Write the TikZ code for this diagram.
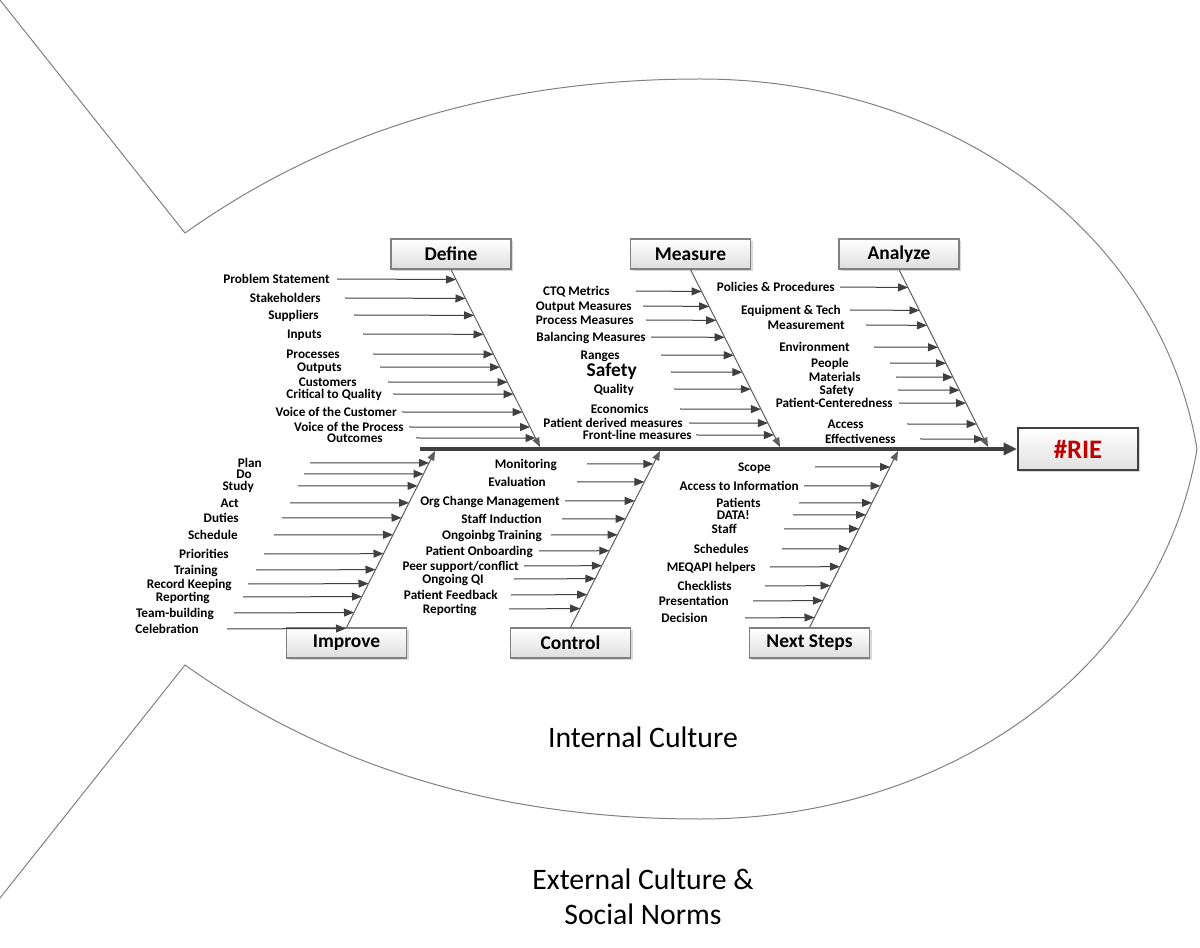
\documentclass[tikz,border=0pt]{standalone}
\usepackage{fontspec}
\setmainfont{Carlito}
\usetikzlibrary{arrows.meta, calc, shadows}
\definecolor{bonegray}{RGB}{64,64,64}
\definecolor{finegray}{RGB}{128,128,128}
\definecolor{riered}{RGB}{192,0,0}

\tikzset{
  stage/.style={draw=finegray, line width=0.8pt, top color=white, bottom color=black!13,
    minimum width=90pt, minimum height=22.5pt, inner sep=0pt,
    font=\fontsize{14.6}{16}\selectfont\bfseries,
    drop shadow={shadow xshift=1.8pt, shadow yshift=-1.8pt, opacity=0.3}},
  head/.style={draw=bonegray, line width=1.6pt, top color=white, bottom color=black!12,
    minimum width=90pt, minimum height=31.5pt, inner sep=0pt, text=riered,
    font=\fontsize{20}{22}\selectfont\bfseries,
    drop shadow={shadow xshift=1.8pt, shadow yshift=-1.8pt, opacity=0.3}},
  cause/.style={font=\fontsize{9.9}{11}\selectfont\bfseries, inner sep=0pt,
    text height=1.38ex, text depth=0pt},
  sub/.style={draw=bonegray, line width=0.75pt, -{Triangle[length=7.5pt, width=6pt]}},
  bone/.style={draw=bonegray!85, line width=0.75pt, -{Triangle[length=7pt, width=5.5pt]}},
  spine/.style={draw=bonegray, line width=2.3pt, -{Triangle[length=10pt, width=9pt]}},
  culture/.style={font=\fontsize{22.3}{26.25}\selectfont, text=black, align=center},
}

\begin{document}
\begin{tikzpicture}[x=0.75pt, y=-0.75pt]
\useasboundingbox (0,0) rectangle (1200,948);

% fish outline
\draw[finegray, line width=0.75pt] (0,0) -- (185,233)
  .. controls (330,130) and (500,79) .. (700,79)
  .. controls (950,79) and (1160,230) .. (1197,449)
  .. controls (1160,668) and (950,819) .. (700,819)
  .. controls (500,819) and (330,768) .. (185,665) -- (0,898);

% head and spine
\node[head] (rie) at (1078,449) {\#RIE};
\coordinate (tail) at (420,449);
\draw[spine] (tail) -- (rie.west);

% stage boxes
\node[stage] (define) at (451,254) {Define};
\node[stage] (measure) at (690.5,254) {Measure};
\node[stage] (analyze) at (899,254) {Analyze};
\node[stage] (improve) at (346.5,643) {Improve};
\node[stage] (control) at (570.5,643) {Control};
\node[stage] (next) at (809.5,643) {Next Steps};

% joints on the spine
\coordinate (dj) at (540,447);
\coordinate (mj) at (780,447);
\coordinate (aj) at (988,447);
\coordinate (ij) at (435,451);
\coordinate (cj) at (660,451);
\coordinate (nj) at (898,451);

\draw[bone] (define.south) -- (dj);
\draw[bone] (measure.south) -- (mj);
\draw[bone] (analyze.south) -- (aj);
\draw[bone] (improve.north) -- (ij);
\draw[bone] (control.north) -- (cj);
\draw[bone] (next.north) -- (nj);

% Define causes
\foreach \txt/\y/\xl/\xs [count=\i] in {Problem Statement/279/330/337, Stakeholders/298/321/345,
    Suppliers/315/319/354, Inputs/334/322/363, Processes/354/340/373, Outputs/367/342/380,
    Customers/382/357/388, Critical to Quality/394/382/393, Voice of the Customer/412/397/402,
    Voice of the Process/427/404/409, Outcomes/438/383/416}{
  \node[cause, anchor=east] (def\i) at (\xl,\y) {\txt};
  \pgfmathsetmacro\fr{(\y-269)/(447-269)}
  \draw[sub] (\xs,\y) -- ($(define.south)!\fr!(dj)$);
}

% Measure causes
\foreach \txt/\y/\xl/\xs [count=\i] in {CTQ Metrics/291/610/636, Output Measures/306/632/643,
    Process Measures/320/634/646, Balancing Measures/337/646/651, Ranges/355/620/661,
    {\fontsize{14.6}{16}\selectfont Safety}/372/637/671, Quality/389/634/674,
    Economics/409/649/680, Patient derived measures/423/683/689,
    Front-line measures/435/692/696}{
  \node[cause, anchor=east] (mea\i) at (\xl,\y) {\txt};
  \pgfmathsetmacro\fr{(\y-269)/(447-269)}
  \draw[sub] (\xs,\y) -- ($(measure.south)!\fr!(mj)$);
}

% Analyze causes
\foreach \txt/\y/\xl/\xs [count=\i] in {Policies \& Procedures/287/835/840,
    Equipment \& Tech/310/841/850, Measurement/325/845/866, Environment/347/850/874,
    People/363/849/890, Materials/377/861/896, Safety/390/854/898,
    Patient-Centeredness/403/893/899, Access/424/864/907, Effectiveness/439/896/920}{
  \node[cause, anchor=east] (ana\i) at (\xl,\y) {\txt};
  \pgfmathsetmacro\fr{(\y-269)/(447-269)}
  \draw[sub] (\xs,\y) -- ($(analyze.south)!\fr!(aj)$);
}

% Improve causes
\foreach \txt/\y/\xl/\xs [count=\i] in {Plan/463/262/310, Do/474/252/304, Study/486/254/298,
    Act/503/239/290, Duties/518/239/282, Schedule/535/238/274, Priorities/554/229/264,
    Training/570/218/256, Record Keeping/584/232/248, Reporting/597/210/243,
    Team-building/613/214/234, Celebration/629/199/227}{
  \node[cause, anchor=east] (imp\i) at (\xl,\y) {\txt};
  \pgfmathsetmacro\fr{(\y-628)/(451-628)}
  \draw[sub] (\xs,\y) -- ($(improve.north)!\fr!(ij)$);
}

% Control causes
\foreach \txt/\y/\xl/\xs [count=\i] in {Monitoring/464/557/587, Evaluation/482/546/577,
    Org Change Management/501/560/565, Staff Induction/519/542/562,
    Ongoinbg Training/535/542/551, Patient Onboarding/551/533/539,
    {Peer support/conflict}/566/519/524, Ongoing QI/579/484/514,
    Patient Feedback/595/498/511, Reporting/609/477/509}{
  \node[cause, anchor=east] (con\i) at (\xl,\y) {\txt};
  \pgfmathsetmacro\fr{(\y-628)/(451-628)}
  \draw[sub] (\xs,\y) -- ($(control.north)!\fr!(cj)$);
}

% Next Steps causes
\foreach \txt/\y/\xl/\xs [count=\i] in {Scope/467/771/815, Access to Information/486/799/804,
    Patients/503/761/799, DATA!/515/750/793, Staff/529/737/784, Schedules/549/749/782,
    MEQAPI helpers/567/756/770, Checklists/586/732/765, Presentation/601/729/753,
    Decision/618/708/745}{
  \node[cause, anchor=east] (nxt\i) at (\xl,\y) {\txt};
  \pgfmathsetmacro\fr{(\y-628)/(451-628)}
  \draw[sub] (\xs,\y) -- ($(next.north)!\fr!(nj)$);
}

% culture labels
\node[culture] (internal) at (643,737) {Internal Culture};
\node[culture] (external) at (643,897) {External Culture \&\\Social Norms};
\end{tikzpicture}
\end{document}
